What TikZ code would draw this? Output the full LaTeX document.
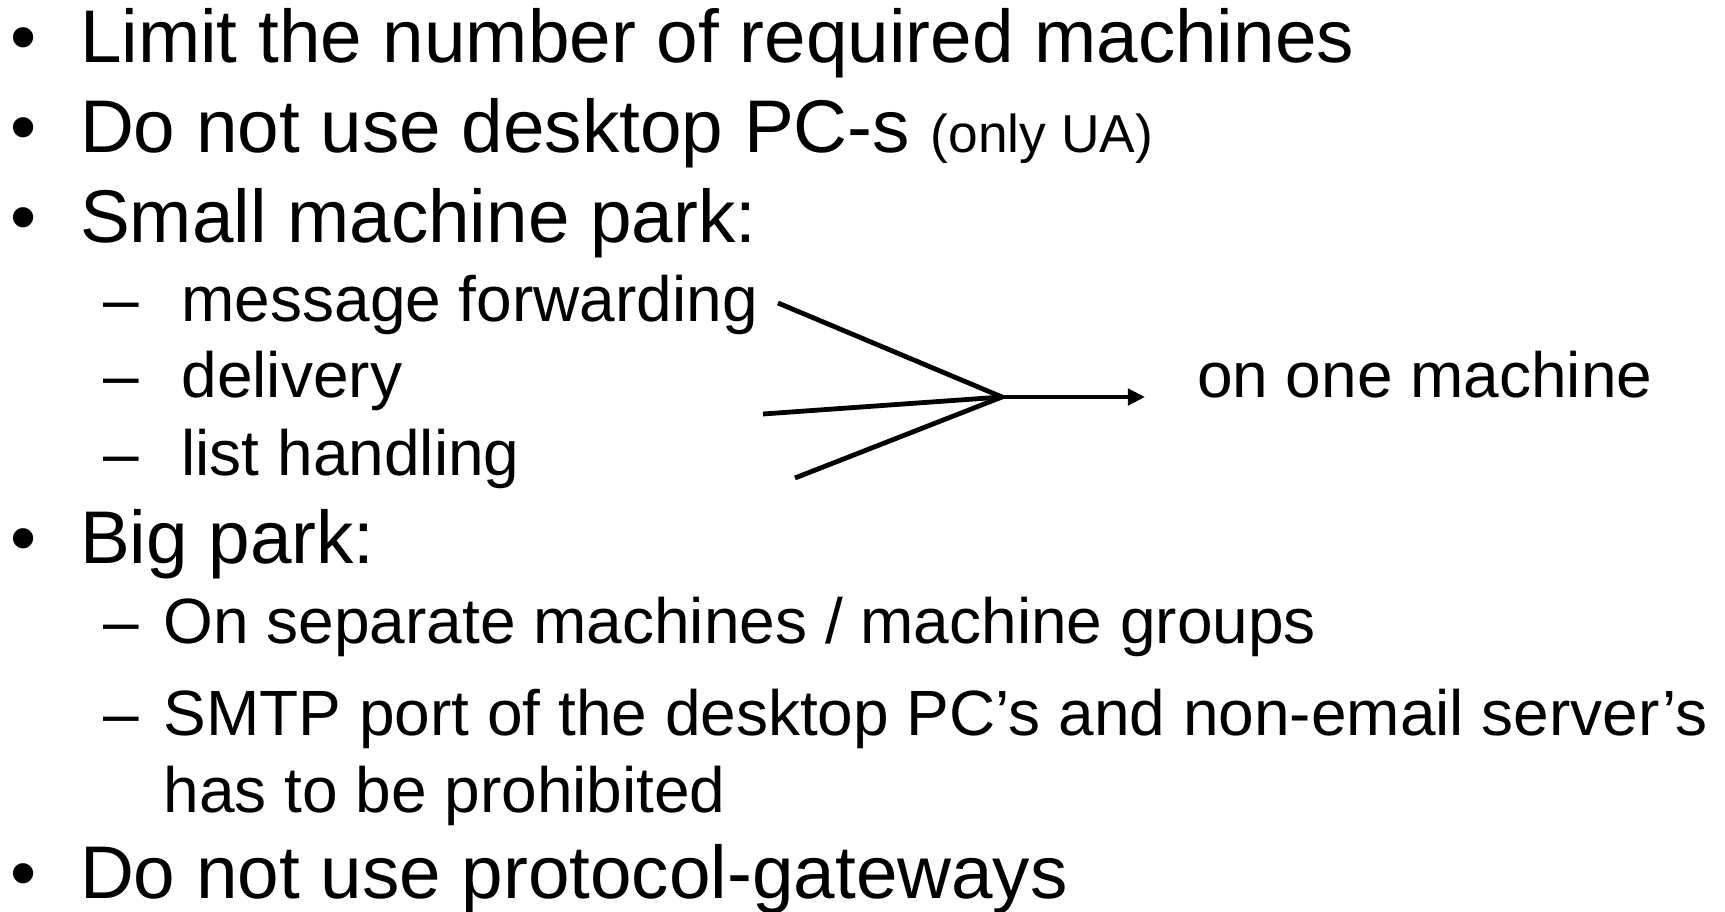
\documentclass[tikz,border=0pt]{standalone}
\usepackage{fontspec}
\setmainfont{Liberation Sans}
\usetikzlibrary{arrows.meta}

\newcommand{\lvlone}{\fontsize{28}{33.6}\selectfont}
\newcommand{\lvltwo}{\fontsize{24}{28.8}\selectfont}
\newcommand{\lvlsmall}{\fontsize{20}{24}\selectfont}

\begin{document}
\begin{tikzpicture}[x=0.375pt,y=-0.375pt,
    txt/.style={anchor=base west,inner sep=0pt},
    main/.style={txt,font=\lvlone},
    sub/.style={txt,font=\lvltwo},
    link/.style={line width=1.8pt}]
                \useasboundingbox (0,0) rectangle (1725,912);

                \node[main] (dot1) at (9.5,63) {\textbullet}; \node[main] (limit) at (79.5,63) {Limit the number of required machines};
                \node[main] (dot2) at (9.5,153) {\textbullet}; \node[main] (nopc) at (79.5,153) {Do not use desktop PC-s {\lvlsmall (only UA)}};
                \node[main] (dot3) at (9.5,243) {\textbullet}; \node[main] (small) at (79.5,243) {Small machine park:};
                \node[sub] (dash1) at (103,322) {\textendash}; \node[sub] (fwd) at (181,322) {message forwarding};
                \node[sub] (dash2) at (103,398) {\textendash}; \node[sub] (deliv) at (181,398) {delivery};
                \node[sub] (dash3) at (103,476) {\textendash}; \node[sub] (lists) at (181,476) {list handling};
                \node[main] (dot4) at (9.5,563) {\textbullet}; \node[main] (big) at (79.5,563) {Big park:};
                \node[sub] (dash4) at (103,643) {\textendash}; \node[sub] (separate) at (163,643) {On separate machines / machine groups};
                \node[sub] (dash5) at (103,735) {\textendash}; \node[sub] (smtp) at (163,735) {SMTP port of the desktop PC’s and non-email server’s};
                \node[sub] (smtpcont) at (163,812) {has to be prohibited};
                \node[main] (dot5) at (9.5,898) {\textbullet}; \node[main] (nogw) at (79.5,898) {Do not use protocol-gateways};

                \node[sub] (onemach) at (1196.5,398) {on one machine};
                \coordinate (fwdend) at (778,303); \coordinate (delivend) at (763,414); \coordinate (listend) at (795,478);
                \coordinate (hub) at (1002,397);

                \draw[link] (fwdend) to (hub); \draw[link] (delivend) to (hub); \draw[link] (listend) to (hub);
                \draw[link,-{Triangle[length=6.4pt,width=6pt]},shorten >=19.3pt] (hub) to (hub -| onemach.base west);
            \end{tikzpicture}
\end{document}
